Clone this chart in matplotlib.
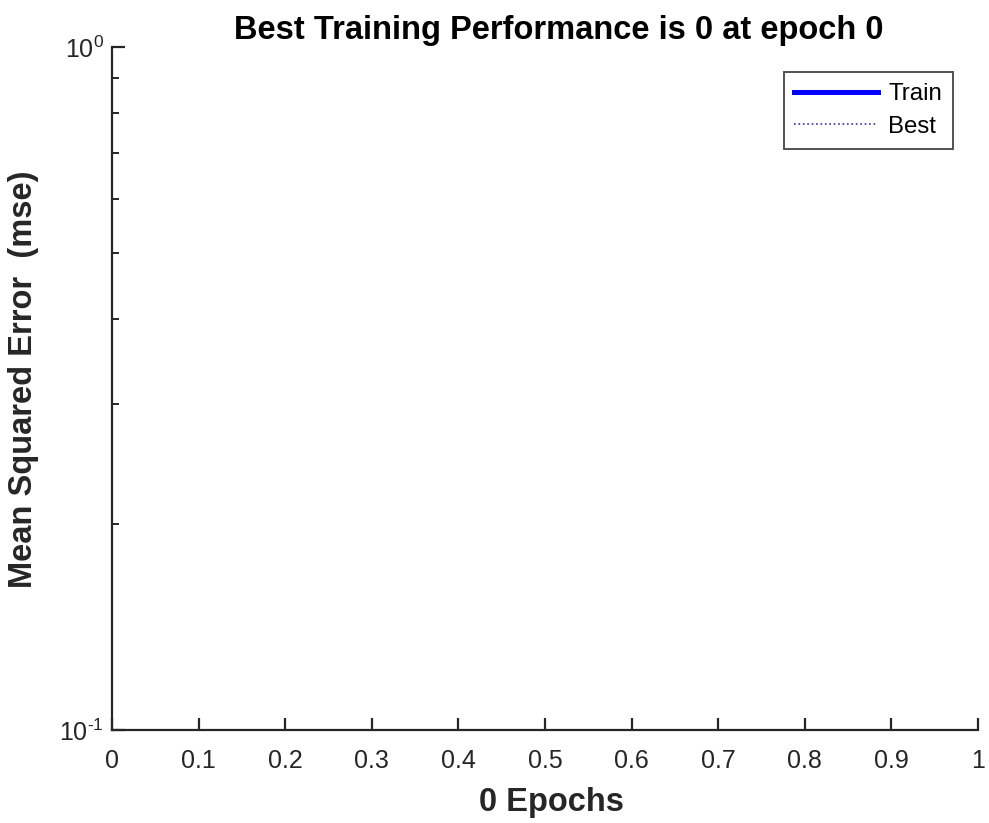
import matplotlib
matplotlib.use("Agg")
import matplotlib.pyplot as plt
from matplotlib.ticker import LogLocator, NullFormatter

plt.rcParams['font.family'] = ['Liberation Sans', 'DejaVu Sans']
plt.rcParams['mathtext.fontset'] = 'custom'
plt.rcParams['mathtext.rm'] = 'Liberation Sans'
plt.rcParams['mathtext.it'] = 'Liberation Sans:italic'
plt.rcParams['mathtext.bf'] = 'Liberation Sans:bold'

# training record (no epochs were run)
epochs = []
train_perf = []
best_epoch = 0
best_perf = 0

xticks = [0, 0.1, 0.2, 0.3, 0.4, 0.5, 0.6, 0.7, 0.8, 0.9, 1]
xticklabels = ['0', '0.1', '0.2', '0.3', '0.4', '0.5', '0.6', '0.7', '0.8', '0.9', '1']
yticks = [0.1, 1]
yticklabels = [r'$\mathregular{10^{\text{-}1}}$', r'$\mathregular{10^{0}}$']

fig = plt.figure(figsize=(9.89, 8.23), dpi=100)
ax = fig.add_axes([0.1132, 0.113, 0.8757, 0.8299])

ax.plot(epochs, train_perf, '-', color='#0000ff', linewidth=3.6, label='Train')
ax.plot(epochs, train_perf, ':', color='#3333aa', linewidth=1.2, label='Best')

ax.set_yscale('log')
ax.set_ylim(0.1, 1)
ax.set_xlim(0, 1)
ax.set_xticks(xticks)
ax.set_xticklabels(xticklabels)
ax.set_yticks(yticks)
ax.set_yticklabels(yticklabels)
ax.yaxis.set_minor_locator(LogLocator(base=10, subs=range(2, 10)))
ax.yaxis.set_minor_formatter(NullFormatter())

for s in ['top', 'right']:
    ax.spines[s].set_visible(False)
for s in ['left', 'bottom']:
    ax.spines[s].set_linewidth(1.6)
    ax.spines[s].set_color('#262626')

ax.tick_params(which='major', direction='in', length=9, width=1.6, color='#262626',
               labelsize=18, labelcolor='#262626')
ax.tick_params(axis='x', which='major', pad=14)
ax.tick_params(axis='y', which='major', pad=6)
ax.tick_params(which='minor', direction='in', length=5, width=1.4, color='#262626')

ax.set_title('Best Training Performance is %d at epoch %d' % (best_perf, best_epoch),
             fontsize=23.5, fontweight='bold', pad=6, x=0.516)
ax.set_xlabel('%d Epochs' % len(epochs), fontsize=23.5, fontweight='bold', color='#262626',
              labelpad=10, x=0.507)
ax.set_ylabel('Mean Squared Error  (mse)', fontsize=23.5, fontweight='bold', color='#262626',
              labelpad=14, y=0.514)

leg = ax.legend(loc='upper right', bbox_to_anchor=(0.971, 0.963), borderaxespad=0,
                fontsize=17.3, handlelength=3.46, frameon=True, fancybox=False,
                borderpad=0.45, labelspacing=0.45, handletextpad=0.45)
leg.get_frame().set_edgecolor('#262626')
leg.get_frame().set_linewidth(1.4)

fig.savefig('out.png', dpi=100)
